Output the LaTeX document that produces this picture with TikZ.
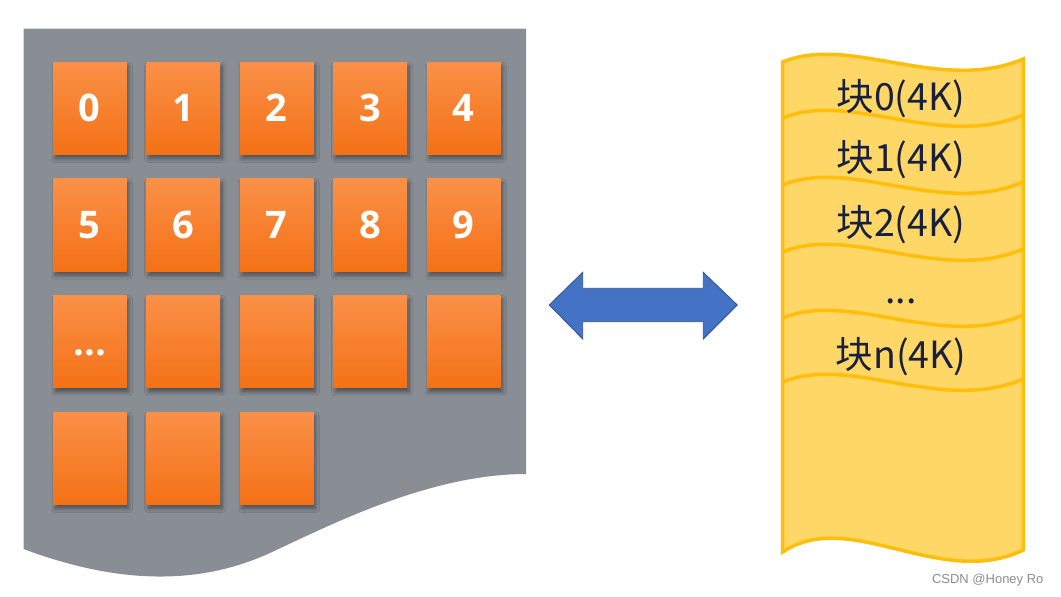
\documentclass[tikz,border=0pt]{standalone}
\usepackage{fontspec}
\newfontfamily\cjk{Noto Sans CJK SC}
\newfontfamily\digitfont{Open Sans}
\newfontfamily\markfont{Liberation Sans}
\usetikzlibrary{shadows.blur}

\definecolor{paper}{RGB}{137,142,149}
\definecolor{tiletop}{RGB}{250,144,72}
\definecolor{tilebot}{RGB}{244,113,22}
\definecolor{diskfill}{RGB}{255,215,102}
\definecolor{diskrim}{RGB}{255,190,10}
\definecolor{arrowblue}{RGB}{68,114,196}
\definecolor{arrowrim}{RGB}{47,82,143}
\definecolor{inktext}{RGB}{24,32,62}
\newcommand{\moredots}{...}

\begin{document}
\begin{tikzpicture}[x=1pt, y=-1pt,
  tile/.style={minimum width=73.5pt, minimum height=92.5pt, inner sep=0pt,
    top color=tiletop, bottom color=tilebot, text=white,
    font=\digitfont\bfseries\fontsize{38}{40}\selectfont,
    text height=27pt, text depth=0pt,
    blur shadow={shadow xshift=2pt, shadow yshift=-4pt, shadow blur radius=4pt,
      shadow blur steps=8, shadow opacity=45}},
  blocklabel/.style={anchor=base, text=inktext, font=\cjk\fontsize{37.5}{40}\selectfont},
  rim/.style={draw=diskrim, line width=3.5pt}]
\useasboundingbox (0,0) rectangle (1061,597);

% Left: memory page with frames
\fill[paper] (23.5,28.7) -- (526,28.7) -- (526,474)
  .. controls (430,474) and (330,525) .. (270,553)
  .. controls (200,585) and (120,585) .. (23.5,549) -- cycle;
\foreach \i/\c/\r/\lbl in {0/0/0/0, 1/1/0/1, 2/2/0/2, 3/3/0/3, 4/4/0/4,
    5/0/1/5, 6/1/1/6, 7/2/1/7, 8/3/1/8, 9/4/1/9,
    10/0/2/\moredots, 11/1/2/{}, 12/2/2/{}, 13/3/2/{}, 14/4/2/{},
    15/0/3/{}, 16/1/3/{}, 17/2/3/{}} {
    \node[tile] (t\i) at (89.75+93.5*\c, 108.25+116.7*\r) {\lbl};
}

% Middle: two-way arrow
\draw[fill=arrowblue, draw=arrowrim, line width=0.8pt]
  (549.3,305) -- (582.7,272.3) -- (582.7,288.3) -- (703.3,288.3) -- (703.3,272.3)
  -- (737.3,305) -- (703.3,339) -- (703.3,321.7) -- (582.7,321.7) -- (582.7,339) -- cycle;

% Right: disk split into blocks
\filldraw[fill=diskfill, rim] (782.7,62) .. controls (850,34) and (940,94) .. (1023.3,59)
  -- (1023.3,550) .. controls (940,590) and (850,507) .. (782.7,552) -- cycle;
\foreach \y in {118,185,252,318,382} {
    \draw[rim] (782.7,\y) .. controls (850,\y-28) and (940,\y+32) .. (1023.3,\y-3);
}
\foreach \name/\lbl/\yb in {b0/{块0(4K)}/110, b1/{块1(4K)}/171.7, b2/{块2(4K)}/236.7,
    bdots/\moredots/303, bn/{块n(4K)}/368.3} {
    \node[blocklabel] (\name) at (901,\yb) {\lbl};
}

\node[anchor=east, text=black!45, font=\markfont\fontsize{13}{13}\selectfont] (mark) at (1047,580) {CSDN @Honey Ro};
\end{tikzpicture}
\end{document}
